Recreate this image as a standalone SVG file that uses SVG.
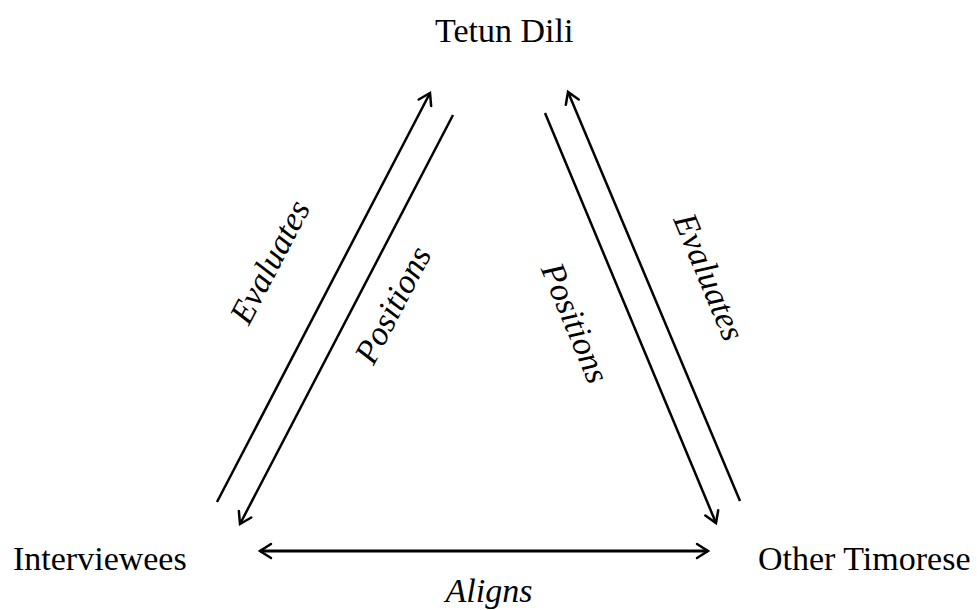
<svg xmlns="http://www.w3.org/2000/svg" width="977" height="610" viewBox="0 0 977 610">
<style>
.node{font-family:"Liberation Serif","Times New Roman",serif;font-size:34px;fill:#000}
.lbl{font-family:"Liberation Serif","Times New Roman",serif;font-size:34px;font-style:italic;fill:#000;text-anchor:middle}
.edge{stroke:#000;stroke-width:2.5;fill:none}
</style>
<defs>
<marker id="ah" markerUnits="userSpaceOnUse" markerWidth="30" markerHeight="30" viewBox="-15 -15 30 30" refX="0" refY="0" orient="auto-start-reverse">
<path d="M -11 -7 L 0 0 L -11 7" fill="none" stroke="#000" stroke-width="2.5" stroke-linecap="round" stroke-linejoin="miter"/>
</marker>
</defs>
<g id="tetun"><text class="node" x="435" y="42">Tetun Dili</text></g>
<g id="interviewees"><text class="node" x="13" y="570">Interviewees</text></g>
<g id="other"><text class="node" x="758" y="570">Other Timorese</text></g>
<g id="connectors">
<line class="edge" x1="217" y1="502" x2="430" y2="93" marker-end="url(#ah)"/>
<line class="edge" x1="453" y1="115" x2="240" y2="524" marker-end="url(#ah)"/>
<line class="edge" x1="545" y1="113" x2="716" y2="523" marker-end="url(#ah)"/>
<line class="edge" x1="740" y1="501" x2="568" y2="92" marker-end="url(#ah)"/>
<line class="edge" style="stroke-width:3" x1="260" y1="551" x2="708" y2="551" marker-start="url(#ah)" marker-end="url(#ah)"/>
</g>
<g id="labels">
<text class="lbl" transform="translate(270,262) rotate(-62.4)" y="11">Evaluates</text>
<text class="lbl" transform="translate(393,305) rotate(-62.4)" y="11">Positions</text>
<text class="lbl" transform="translate(575,323) rotate(67.4)" y="11">Positions</text>
<text class="lbl" transform="translate(709,277) rotate(67.4)" y="11">Evaluates</text>
<text class="lbl" x="489" y="602">Aligns</text>
</g>
</svg>
